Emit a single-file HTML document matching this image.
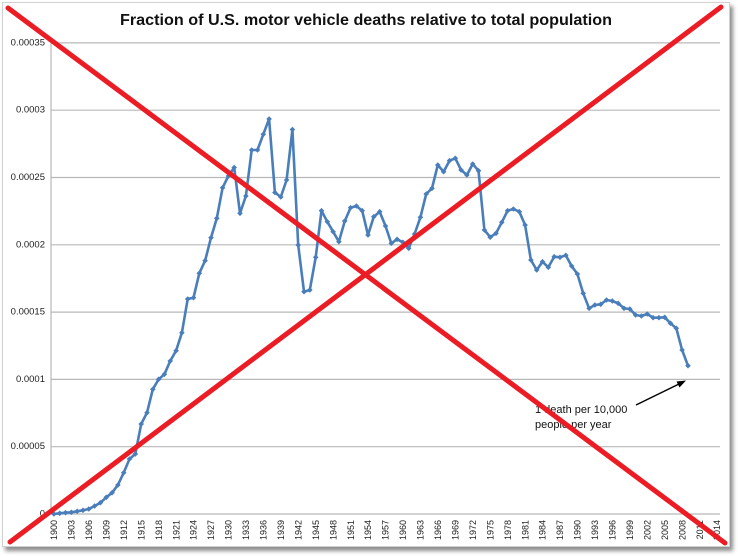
<!DOCTYPE html>
<html>
<head>
<meta charset="utf-8">
<style>
html,body{margin:0;padding:0;background:#fff;}
body{width:738px;height:556px;overflow:hidden;position:relative;}
#frame{position:absolute;left:2px;top:2px;width:726px;height:543px;border:1px solid #d0d0d0;background:#fff;box-shadow:3px 4px 4px rgba(0,0,0,0.45);}
svg{position:absolute;left:0;top:0;}
</style>
</head>
<body>
<div id="frame"></div>
<svg width="738" height="556" viewBox="0 0 738 556" xmlns="http://www.w3.org/2000/svg">
  <g stroke="#b8b8b8" stroke-width="1.2">
    <line x1="51" y1="446.7" x2="720" y2="446.7"/>
    <line x1="51" y1="379.4" x2="720" y2="379.4"/>
    <line x1="51" y1="312.1" x2="720" y2="312.1"/>
    <line x1="51" y1="244.8" x2="720" y2="244.8"/>
    <line x1="51" y1="177.5" x2="720" y2="177.5"/>
    <line x1="51" y1="110.2" x2="720" y2="110.2"/>
    <line x1="51" y1="42.9" x2="720" y2="42.9"/>
    <line x1="51" y1="514" x2="720" y2="514"/>
    <line x1="51" y1="42.9" x2="51" y2="514"/>
  </g>
  <g font-family="Liberation Sans, sans-serif" font-size="9.5" fill="#222" text-anchor="end" dominant-baseline="central">
    <text x="45" y="514">0</text>
    <text x="45" y="446.7">0.00005</text>
    <text x="45" y="379.4">0.0001</text>
    <text x="45" y="312.1">0.00015</text>
    <text x="45" y="244.8">0.0002</text>
    <text x="45" y="177.5">0.00025</text>
    <text x="45" y="110.2">0.0003</text>
    <text x="45" y="42.9">0.00035</text>
  </g>
  <text x="366" y="25" font-family="Liberation Sans, sans-serif" font-weight="bold" font-size="16" fill="#111" text-anchor="middle" textLength="492" lengthAdjust="spacingAndGlyphs">Fraction of U.S. motor vehicle deaths relative to total population</text>
  <g id="xl" font-family="Liberation Sans, sans-serif" font-size="9" fill="#222" text-anchor="end"></g>
  <polyline id="series" fill="none" stroke="#4a7ebb" stroke-width="2.6" stroke-linejoin="round" points=""/>
  <g id="markers" fill="#4a7ebb"></g>
  <g font-family="Liberation Sans, sans-serif" font-size="11" fill="#111">
    <text x="535" y="413">1 death per 10,000</text>
    <text x="535" y="428">people per year</text>
  </g>
  <line x1="636" y1="405" x2="679" y2="384" stroke="#000" stroke-width="1.5"/>
  <polygon points="686,380.5 676.5,381.5 679.5,387.5" fill="#000"/>
  <g stroke="#ec1c24" stroke-width="5" stroke-linecap="round">
    <line x1="8" y1="8" x2="725" y2="543"/>
    <line x1="10" y1="542" x2="721" y2="7"/>
  </g>
</svg>
<script>
(function(){
var ys=[514,513.3,512.7,512.3,511.3,510.3,509,506,502.7,497.3,492.7,485,472.7,459,454,424,412.7,389.3,379.3,374.3,361,350.7,332.7,299,297.7,273.3,260.7,237.7,218.3,187.7,176,167.5,213.3,196,150,150,134.3,119,192.5,197,180,129.5,245,291.7,290,257.3,210.7,221.7,231.7,241.7,221,207.7,206,210.7,235,216.7,211.7,226,243.3,239.3,242.3,248.3,234,217.3,194,188.3,165,171.7,160.7,158.3,170,175,164,170.7,230,237.2,233.3,222.3,210.7,209,211.7,225,260,270,261.7,267.3,256.7,257.3,255.3,266,274,293.3,308.3,305,304.3,300,301,303.3,308.3,309,315,316,314,317.7,317.7,317.3,323.3,328.3,350,365.7];
var w=5.817,x0=53.9,pts=[],m='';
for(var i=0;i<ys.length;i++){var x=x0+w*i,y=ys[i];pts.push(x.toFixed(1)+','+y);
m+='<polygon points="'+x.toFixed(1)+','+(y-2.8)+' '+(x+2.8).toFixed(1)+','+y+' '+x.toFixed(1)+','+(y+2.8)+' '+(x-2.8).toFixed(1)+','+y+'"/>';}
document.getElementById('series').setAttribute('points',pts.join(' '));
document.getElementById('markers').innerHTML=m;
var s='';
for(var yr=1900;yr<=2014;yr+=3){var xx=x0+w*(yr-1900)+3.2;
s+='<text transform="translate('+xx.toFixed(1)+',520) rotate(-90)">'+yr+'</text>';}
document.getElementById('xl').innerHTML=s;
})();
</script>
</body>
</html>
